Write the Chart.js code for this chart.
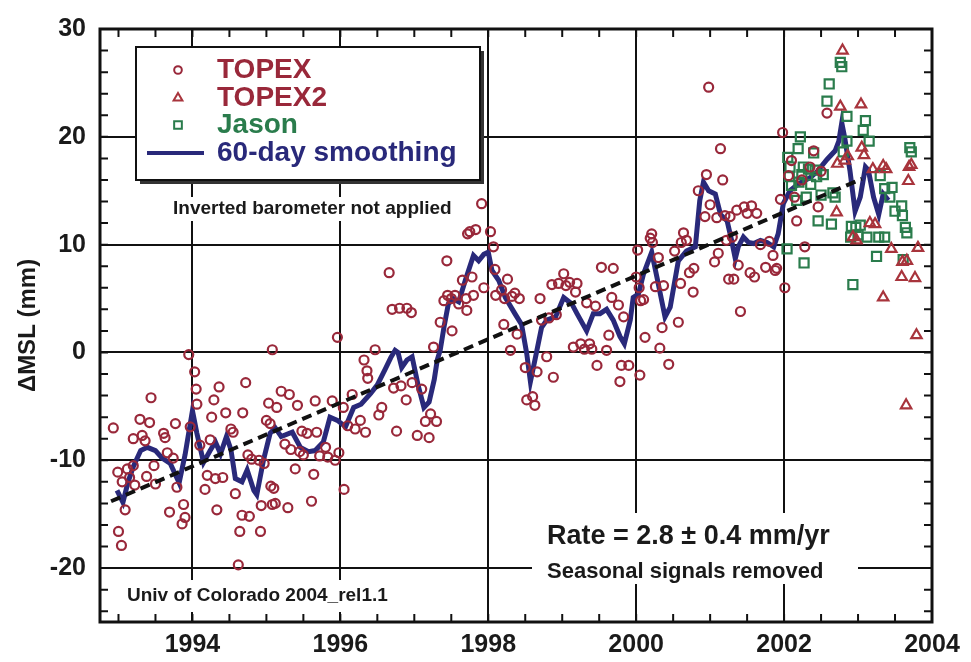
<!DOCTYPE html>
<html>
<head>
<meta charset="utf-8">
<script src="https://cdn.jsdelivr.net/npm/chart.js@4.4.1/dist/chart.umd.min.js"></script>
<style>
  html, body { margin: 0; padding: 0; background: #fff; }
  canvas { display: block; }
</style>
</head>
<body>
<canvas id="grafica" width="971" height="662"></canvas>
<script>
// [año, mm]
const topex = [
  [1992.93,-7.0],[1992.99,-11.1],[1993.0,-16.6],[1993.04,-17.9],[1993.05,-12.0],[1993.09,-14.6],
  [1993.12,-10.8],[1993.15,-11.6],[1993.2,-10.5],[1993.22,-12.3],[1993.2,-8.0],[1993.29,-6.2],
  [1993.32,-7.7],[1993.36,-8.2],[1993.38,-11.5],[1993.42,-6.5],[1993.44,-4.2],[1993.48,-10.5],
  [1993.5,-12.2],[1993.61,-7.5],[1993.63,-7.9],[1993.66,-9.3],[1993.69,-14.8],[1993.74,-9.8],
  [1993.77,-6.6],[1993.79,-12.5],[1993.88,-14.1],[1993.9,-15.3],[1993.86,-15.9],[1993.95,-0.2],
  [1993.97,-6.9],[1994.03,-1.8],[1994.05,-3.4],[1994.06,-4.8],[1994.1,-8.6],[1994.2,-11.4],
  [1994.17,-12.7],[1994.24,-8.1],[1994.26,-6.0],[1994.29,-4.4],[1994.31,-11.7],[1994.33,-14.6],
  [1994.36,-3.2],[1994.41,-11.6],[1994.45,-5.6],[1994.52,-7.1],[1994.55,-7.4],[1994.58,-13.1],
  [1994.62,-19.7],[1994.64,-16.6],[1994.67,-15.1],[1994.68,-5.6],[1994.72,-2.8],[1994.75,-9.5],
  [1994.77,-15.2],[1994.8,-9.9],[1994.9,-10.0],[1994.92,-16.6],[1994.93,-14.2],[1994.97,-10.3],
  [1995.0,-6.3],[1995.03,-4.7],[1995.05,-6.6],[1995.06,-12.4],[1995.08,0.25],[1995.08,-14.1],
  [1995.1,-12.6],[1995.12,-14.0],[1995.14,-5.1],[1995.2,-3.6],[1995.25,-8.5],[1995.29,-14.4],
  [1995.31,-3.9],[1995.33,-9.0],[1995.39,-10.8],[1995.42,-4.9],[1995.45,-9.2],[1995.48,-7.3],
  [1995.5,-9.5],[1995.55,-7.5],[1995.61,-13.8],[1995.64,-11.3],[1995.66,-4.5],[1995.68,-7.4],
  [1995.72,-9.6],[1995.8,-8.8],[1995.83,-9.7],[1995.89,-4.5],[1995.93,-10.0],[1995.96,1.4],
  [1995.98,-9.3],[1996.04,-5.1],[1996.05,-12.7],[1996.1,-6.8],[1996.16,-3.9],[1996.2,-7.1],
  [1996.27,-6.3],[1996.32,-0.7],[1996.34,-7.4],[1996.36,-1.7],[1996.37,-2.4],[1996.47,0.25],
  [1996.52,-5.8],[1996.56,-5.1],[1996.66,7.4],[1996.7,4.0],[1996.72,-3.3],[1996.76,-7.3],
  [1996.8,4.1],[1996.82,-3.1],[1996.89,-4.4],[1996.9,4.1],[1996.96,3.7],[1996.97,-2.8],
  [1997.04,-7.7],[1997.1,-3.4],[1997.15,-6.4],[1997.2,-7.9],[1997.22,-5.7],[1997.26,0.5],
  [1997.3,-6.4],[1997.35,2.8],[1997.4,4.8],[1997.44,8.5],[1997.45,5.3],[1997.5,5.0],
  [1997.51,2.0],[1997.55,5.3],[1997.6,4.5],[1997.65,6.7],[1997.7,5.0],[1997.71,3.9],
  [1997.72,11.0],[1997.75,11.2],[1997.78,7.0],[1997.8,5.3],[1997.83,11.4],[1997.91,13.8],
  [1997.94,6.0],[1998.03,11.2],[1998.07,9.8],[1998.09,7.7],[1998.1,5.3],[1998.18,5.8],
  [1998.21,2.6],[1998.22,5.0],[1998.26,6.8],[1998.3,0.2],[1998.32,5.2],[1998.36,5.5],
  [1998.39,1.7],[1998.42,5.0],[1998.5,-1.4],[1998.52,-4.4],[1998.6,-4.1],[1998.63,-4.9],
  [1998.66,-1.8],[1998.7,5.0],[1998.72,3.0],[1998.79,-0.4],[1998.82,3.2],[1998.86,6.3],
  [1998.88,-2.3],[1998.92,3.5],[1998.95,6.4],[1999.02,7.3],[1999.05,6.2],[1999.1,6.5],
  [1999.15,0.5],[1999.18,5.6],[1999.2,6.4],[1999.25,0.8],[1999.3,0.3],[1999.33,4.6],
  [1999.37,0.8],[1999.4,0.3],[1999.45,4.3],[1999.47,-1.2],[1999.53,7.9],[1999.6,0.2],
  [1999.63,1.6],[1999.67,5.1],[1999.69,7.8],[1999.76,4.4],[1999.78,-2.7],[1999.8,-1.2],
  [1999.83,3.3],[1999.9,-1.2],[2000.0,7.0],[2000.02,9.5],[2000.05,-2.1],[2000.04,6.0],
  [2000.06,4.8],[2000.1,4.9],[2000.12,1.4],[2000.19,10.6],[2000.21,11.0],[2000.22,10.2],
  [2000.26,6.1],[2000.3,8.8],[2000.32,0.4],[2000.35,2.3],[2000.37,6.2],[2000.44,-1.1],
  [2000.52,9.4],[2000.57,2.8],[2000.6,6.4],[2000.61,10.2],[2000.64,11.1],[2000.68,10.4],
  [2000.72,7.4],[2000.77,5.6],[2000.78,7.8],[2000.84,15.0],[2000.93,12.6],[2000.95,16.5],
  [2000.98,24.6],[2001.0,13.7],[2001.06,8.4],[2001.09,12.5],[2001.11,9.2],[2001.14,18.9],
  [2001.17,16.0],[2001.2,12.7],[2001.22,10.4],[2001.25,6.8],[2001.27,12.6],[2001.3,10.7],
  [2001.32,6.8],[2001.36,13.2],[2001.38,8.1],[2001.41,3.8],[2001.46,13.5],[2001.5,12.9],
  [2001.54,7.4],[2001.56,13.6],[2001.6,7.0],[2001.63,12.9],[2001.68,10.0],[2001.75,7.9],
  [2001.8,10.3],[2001.85,9.0],[2001.88,7.6],[2001.9,7.8],[2001.95,14.2],[2001.98,20.4],
  [2002.01,6.0],[2002.06,16.4],[2002.1,17.8],[2002.14,14.4],[2002.17,12.2],[2002.24,16.0],
  [2002.28,9.8],[2002.35,17.2],[2002.4,18.7],[2002.46,13.5],[2002.5,16.8],[2002.58,22.2]
];

const topex2 = [
  [2002.71,13.0],[2002.72,17.5],[2002.76,22.8],[2002.79,28.0],[2002.82,17.8],[2002.86,18.2],
  [2002.93,10.7],[2002.98,10.4],[2003.04,23.0],[2003.05,19.0],[2003.08,18.3],[2003.16,12.0],
  [2003.2,17.0],[2003.23,11.9],[2003.34,17.3],[2003.34,5.1],[2003.38,17.0],[2003.45,9.6],
  [2003.6,8.4],[2003.59,7.0],[2003.65,-4.9],[2003.66,8.5],[2003.68,15.9],[2003.69,17.2],
  [2003.72,17.4],[2003.77,6.9],[2003.79,1.6],[2003.81,9.7]
];

const jason = [
  [2002.04,9.6],[2002.05,18.1],[2002.07,16.3],[2002.08,17.2],[2002.1,15.5],[2002.17,14.1],
  [2002.19,18.9],[2002.2,15.8],[2002.22,20.0],[2002.24,16.5],[2002.26,17.2],[2002.27,8.3],
  [2002.3,14.4],[2002.33,17.0],[2002.36,15.6],[2002.4,18.5],[2002.42,16.9],[2002.44,16.3],
  [2002.46,12.2],[2002.5,14.6],[2002.53,16.5],[2002.58,23.3],[2002.61,24.9],[2002.64,11.9],
  [2002.66,14.8],[2002.69,14.4],[2002.76,26.9],[2002.78,26.5],[2002.8,18.6],[2002.85,21.9],
  [2002.85,19.6],[2002.9,10.7],[2002.91,11.7],[2002.93,6.3],[2002.97,11.6],[2003.0,10.9],
  [2003.03,11.8],[2003.07,20.6],[2003.1,21.5],[2003.12,10.7],[2003.15,19.6],[2003.25,8.9],
  [2003.28,10.7],[2003.3,16.4],[2003.36,10.7],[2003.36,15.2],[2003.43,14.4],[2003.46,15.3],
  [2003.5,13.1],[2003.59,13.6],[2003.6,12.7],[2003.61,8.6],[2003.64,11.6],[2003.66,11.1],
  [2003.7,19.0],[2003.72,18.6]
];

const suavizado = [
  [1992.98,-12.8],[1993.06,-13.9],[1993.13,-12.0],[1993.2,-10.6],[1993.3,-9.1],[1993.39,-8.8],
  [1993.5,-9.1],[1993.59,-9.8],[1993.7,-10.3],[1993.82,-12.1],[1993.9,-9.5],[1994.0,-5.4],
  [1994.06,-7.5],[1994.15,-10.2],[1994.24,-9.1],[1994.31,-8.3],[1994.38,-9.4],[1994.46,-7.8],
  [1994.52,-9.0],[1994.58,-11.7],[1994.67,-12.0],[1994.74,-10.9],[1994.83,-12.8],[1994.87,-13.2],
  [1994.96,-10.0],[1995.05,-7.5],[1995.12,-7.0],[1995.2,-7.8],[1995.35,-7.4],[1995.46,-8.8],
  [1995.57,-9.2],[1995.66,-9.1],[1995.77,-8.3],[1995.86,-6.0],[1995.96,-6.3],[1996.07,-6.9],
  [1996.18,-5.1],[1996.28,-4.8],[1996.41,-3.8],[1996.5,-3.0],[1996.61,-1.5],[1996.68,-0.5],
  [1996.74,0.2],[1996.78,0.0],[1996.83,-1.4],[1996.9,-0.7],[1996.97,-0.4],[1997.05,-3.0],
  [1997.13,-5.1],[1997.2,-4.6],[1997.27,-2.5],[1997.31,-0.7],[1997.35,0.2],[1997.4,2.3],
  [1997.46,4.5],[1997.52,5.0],[1997.6,4.7],[1997.69,6.7],[1997.8,9.0],[1997.87,8.5],
  [1997.94,9.1],[1998.0,9.3],[1998.05,7.6],[1998.14,6.7],[1998.23,5.1],[1998.36,3.6],
  [1998.45,2.6],[1998.52,-0.1],[1998.57,-2.7],[1998.64,-0.4],[1998.72,2.3],[1998.79,3.0],
  [1998.91,3.3],[1999.02,5.1],[1999.13,4.5],[1999.2,3.6],[1999.33,2.0],[1999.42,3.6],
  [1999.51,3.6],[1999.6,4.0],[1999.69,3.0],[1999.78,1.5],[1999.84,0.8],[1999.92,3.0],
  [1999.96,5.1],[2000.03,5.4],[2000.1,7.3],[2000.21,9.3],[2000.28,7.0],[2000.39,3.3],
  [2000.46,4.2],[2000.57,8.5],[2000.68,9.4],[2000.8,9.8],[2000.86,14.1],[2000.91,15.8],
  [2000.98,15.0],[2001.07,14.7],[2001.14,12.8],[2001.23,12.2],[2001.29,10.4],[2001.34,8.7],
  [2001.38,9.8],[2001.45,10.7],[2001.52,10.2],[2001.59,10.1],[2001.68,10.4],[2001.77,10.2],
  [2001.86,9.8],[2001.92,11.0],[2001.99,13.8],[2002.08,15.0],[2002.17,15.5],[2002.26,15.9],
  [2002.35,16.2],[2002.45,16.8],[2002.58,17.9],[2002.69,18.7],[2002.74,19.6],[2002.78,21.3],
  [2002.82,19.9],[2002.89,16.9],[2002.96,13.1],[2003.03,14.4],[2003.1,17.2],[2003.14,16.9],
  [2003.21,14.4],[2003.28,12.8],[2003.34,14.7],[2003.41,14.1]
];

const tendencia = [[1992.9,-13.8],[2003.05,16.1]];

const xTicks = [1994, 1996, 1998, 2000, 2002, 2004];
const yTicks = [-20, -10, 0, 10, 20, 30];

const FUENTE = '"Liberation Sans", Arial, Helvetica, sans-serif';
const ROJO = '#99283a';
const VERDE = '#2a7c4c';
const AZUL = '#29297a';

const pares = arr => arr.map(p => ({ x: p[0], y: p[1] }));

function texto(ctx, s, x, y, size, color) {
    ctx.font = 'bold ' + size + 'px ' + FUENTE;
    ctx.fillStyle = color;
    ctx.textAlign = 'left';
    ctx.textBaseline = 'middle';
    ctx.fillText(s, x, y);
}

const marco = {
    id: 'marco',
    beforeDatasetsDraw(chart) {
        const ctx = chart.ctx;
        ctx.save();
        ctx.fillStyle = '#fff';
        ctx.fillRect(168, 197, 300, 24);
        ctx.fillRect(532, 513, 326, 71);
        ctx.fillRect(120, 580, 284, 32);
        ctx.restore();
    },
    afterDatasetsDraw(chart) {
        const ctx = chart.ctx;
        const a = chart.chartArea;
        const sx = chart.scales.x, sy = chart.scales.y;
        ctx.save();
        // marcas menores hacia dentro
        ctx.strokeStyle = '#111';
        ctx.lineWidth = 2;
        ctx.beginPath();
        for (let v = 1993; v < 2004; v += 0.5) {
            const px = sx.getPixelForValue(v);
            ctx.moveTo(px, a.bottom); ctx.lineTo(px, a.bottom - 8);
            ctx.moveTo(px, a.top); ctx.lineTo(px, a.top + 8);
        }
        for (let v = -24; v < 30; v += 2) {
            const py = sy.getPixelForValue(v);
            ctx.moveTo(a.left, py); ctx.lineTo(a.left + 8, py);
            ctx.moveTo(a.right, py); ctx.lineTo(a.right - 8, py);
        }
        ctx.stroke();
        ctx.lineWidth = 3;
        ctx.strokeRect(a.left, a.top, a.right - a.left, a.bottom - a.top);

        // leyenda
        ctx.fillStyle = '#333';
        ctx.fillRect(140, 51, 344, 133);
        ctx.fillStyle = '#fff';
        ctx.fillRect(136, 47, 344, 133);
        ctx.lineWidth = 2;
        ctx.strokeStyle = '#111';
        ctx.strokeRect(136, 47, 344, 133);

        const ds = chart.data.datasets;
        const filas = [70, 98, 125, 153];
        for (let i = 0; i < 3; i++) {
            ctx.strokeStyle = ds[i].borderColor;
            ctx.fillStyle = 'rgba(0,0,0,0)';
            ctx.lineWidth = 2;
            Chart.helpers.drawPoint(ctx, {
                pointStyle: ds[i].pointStyle, radius: ds[i].pointRadius * 0.85,
                rotation: 0, borderWidth: 2
            }, 178, filas[i]);
        }
        ctx.strokeStyle = AZUL;
        ctx.lineWidth = 4;
        ctx.beginPath();
        ctx.moveTo(147, filas[3]); ctx.lineTo(204, filas[3]);
        ctx.stroke();

        texto(ctx, 'TOPEX', 217, filas[0], 28, ROJO);
        texto(ctx, 'TOPEX2', 217, filas[1], 28, ROJO);
        texto(ctx, 'Jason', 217, filas[2], 28, VERDE);
        texto(ctx, '60-day smoothing', 217, filas[3], 28, AZUL);

        // notas
        texto(ctx, 'Inverted barometer not applied', 173, 209, 19, '#1a1a1a');
        texto(ctx, 'Rate = 2.8 \u00b1 0.4 mm/yr', 547, 537, 27, '#1a1a1a');
        texto(ctx, 'Seasonal signals removed', 547, 572, 22, '#1a1a1a');
        texto(ctx, 'Univ of Colorado 2004_rel1.1', 127, 596, 19, '#1a1a1a');
        ctx.restore();
    }
};

const fuenteTick = { family: FUENTE, size: 25, weight: 'bold' };

new Chart(document.getElementById('grafica'), {
    type: 'scatter',
    data: {
        datasets: [{
            label: 'TOPEX',
            data: pares(topex),
            pointStyle: 'circle',
            pointRadius: 4.5,
            borderColor: ROJO,
            backgroundColor: 'rgba(0,0,0,0)',
            borderWidth: 2.2,
            order: 2
        }, {
            label: 'TOPEX2',
            data: pares(topex2),
            pointStyle: 'triangle',
            pointRadius: 6,
            borderColor: '#a8343c',
            backgroundColor: 'rgba(0,0,0,0)',
            borderWidth: 2.2,
            order: 2
        }, {
            label: 'Jason',
            data: pares(jason),
            pointStyle: 'rect',
            pointRadius: 6.4,
            borderColor: VERDE,
            backgroundColor: 'rgba(0,0,0,0)',
            borderWidth: 2.2,
            order: 2
        }, {
            label: '60-day smoothing',
            data: pares(suavizado),
            showLine: true,
            borderColor: AZUL,
            borderWidth: 5,
            pointRadius: 0,
            tension: 0,
            order: 3
        }, {
            label: 'tendencia',
            data: pares(tendencia),
            showLine: true,
            borderColor: '#111',
            borderWidth: 4,
            borderDash: [10, 6],
            pointRadius: 0,
            order: 1
        }]
    },
    options: {
        responsive: false,
        devicePixelRatio: 1,
        animation: false,
        layout: { padding: { top: 28, right: 39, left: 0, bottom: 0 } },
        plugins: { legend: { display: false }, tooltip: { enabled: false } },
        scales: {
            x: {
                type: 'linear',
                min: 1992.75,
                max: 2004,
                afterBuildTicks: s => { s.ticks = xTicks.map(v => ({ value: v })); },
                afterFit: s => { s.height = 40; },
                grid: { color: '#111', lineWidth: 2, drawTicks: false },
                border: { display: false },
                ticks: {
                    callback: v => String(v),
                    autoSkip: false, maxRotation: 0,
                    font: fuenteTick, color: '#1a1a1a', padding: 8
                }
            },
            y: {
                min: -25,
                max: 30,
                afterBuildTicks: s => { s.ticks = yTicks.map(v => ({ value: v })); },
                afterFit: s => { s.width = 100; },
                grid: { color: '#111', lineWidth: 2, drawTicks: false },
                border: { display: false },
                ticks: { font: fuenteTick, color: '#1a1a1a', padding: 14 },
                title: {
                    display: true,
                    text: '\u0394MSL (mm)',
                    font: { family: FUENTE, size: 24, weight: 'bold' },
                    color: '#1a1a1a',
                    padding: { top: 14, bottom: 0 }
                }
            }
        }
    },
    plugins: [marco]
});
</script>
</body>
</html>
